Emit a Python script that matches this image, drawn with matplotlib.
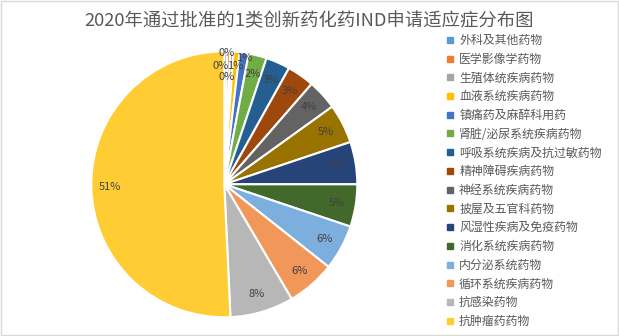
import matplotlib
matplotlib.use("Agg")
import matplotlib.pyplot as plt
from matplotlib.lines import Line2D
from matplotlib.patches import Rectangle

plt.rcParams['font.family'] = ['Noto Sans CJK SC', 'DejaVu Sans']

# datos (numero de IND por area terapeutica)
categorias = ["外科及其他药物", "医学影像学药物", "生殖体统疾病药物", "血液系统疾病药物",
              "镇痛药及麻醉科用药", "肾脏/泌尿系统疾病药物", "呼吸系统疾病及抗过敏药物",
              "精神障碍疾病药物", "神经系统疾病药物", "披屋及五官科药物", "风湿性疾病及免疫药物",
              "消化系统疾病药物", "内分泌系统药物", "循环系统疾病药物", "抗感染药物", "抗肿瘤药药物"]
valores = [1, 1, 1, 2, 3, 6, 8, 9, 10, 13, 14, 14, 15, 16, 21, 138]

colores = ["#5B9BD5", "#ED7D31", "#A5A5A5", "#FFC000", "#4472C4", "#70AD47",
           "#255E91", "#9E480E", "#636363", "#997300", "#264478", "#43682B",
           "#7CAFDD", "#F1975A", "#B7B7B7", "#FFCD33"]

W, H = 619, 336
fig = plt.figure(figsize=(W / 100, H / 100), dpi=100)

# marco gris del grafico
fig.patches.append(Rectangle((0.002, 0.003), 0.996, 0.994, transform=fig.transFigure,
                             fill=False, edgecolor="#D9D9D9", linewidth=1))

cx, cy, r = 224.3, 184.3, 133
ax = fig.add_axes([(cx - r) / W, (H - cy - r) / H, 2 * r / W, 2 * r / H])

wedges, textos, autotextos = ax.pie(valores, colors=colores, startangle=90, counterclock=False,
                                    autopct='%1.0f%%', pctdistance=0.86,
                                    wedgeprops=dict(edgecolor='white', linewidth=1.5),
                                    textprops=dict(color='#404040', fontsize=8))
ax.set_xlim(-1, 1)
ax.set_ylim(-1, 1)
ax.set_aspect('equal')

# etiquetas de los sectores pequenos (Excel las mueve para que no se pisen)
pos_pequenas = {0: (0.02, 0.99), 1: (-0.03, 0.89), 2: (0.02, 0.81), 3: (0.08, 0.89), 4: (0.15, 0.95)}
for i, p in pos_pequenas.items():
    autotextos[i].set_position(p)

fig.text(0.5, 1 - 21.5 / H, "2020年通过批准的1类创新药化药IND申请适应症分布图",
         ha='center', va='center', fontsize=13.2, color='#595959')

handles = [Line2D([], [], marker='s', linestyle='none', markersize=4.2,
                  markerfacecolor=c, markeredgecolor=c) for c in colores]
fig.legend(handles, categorias, loc='upper left', bbox_to_anchor=(446 / W, 1 - 34 / H),
           frameon=False, fontsize=8.6, labelcolor='#595959', handlelength=0.6,
           handletextpad=0.5, labelspacing=0.48, borderpad=0, borderaxespad=0)

plt.savefig("out.png", dpi=100)
